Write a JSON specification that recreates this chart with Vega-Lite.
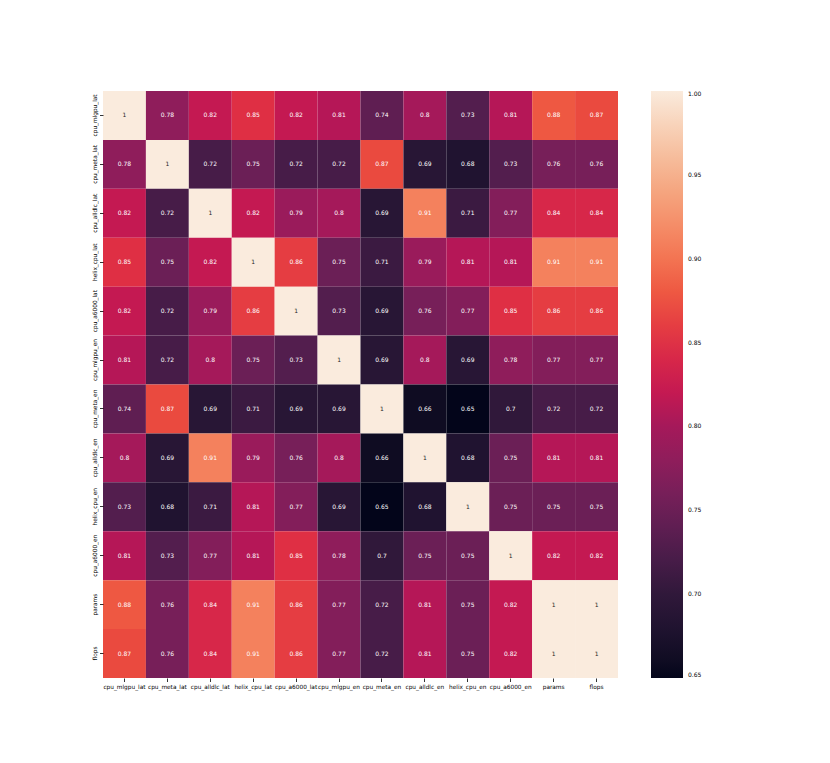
{
  "$schema": "https://vega.github.io/schema/vega-lite/v6.json",
  "width": 515,
  "height": 587,
  "autosize": {"type": "none"},
  "padding": {"left": 103, "top": 91, "right": 212, "bottom": 85},
  "background": "white",
  "config": {
    "view": {"stroke": null},
    "font": "DejaVu Sans"
  },
  "datasets": {
    "corr": [
      {"r":"cpu_mlgpu_lat","c":"cpu_mlgpu_lat","v":1},{"r":"cpu_mlgpu_lat","c":"cpu_meta_lat","v":0.78},{"r":"cpu_mlgpu_lat","c":"cpu_alldlc_lat","v":0.82},{"r":"cpu_mlgpu_lat","c":"helix_cpu_lat","v":0.85},{"r":"cpu_mlgpu_lat","c":"cpu_a6000_lat","v":0.82},{"r":"cpu_mlgpu_lat","c":"cpu_mlgpu_en","v":0.81},{"r":"cpu_mlgpu_lat","c":"cpu_meta_en","v":0.74},{"r":"cpu_mlgpu_lat","c":"cpu_alldlc_en","v":0.8},{"r":"cpu_mlgpu_lat","c":"helix_cpu_en","v":0.73},{"r":"cpu_mlgpu_lat","c":"cpu_a6000_en","v":0.81},{"r":"cpu_mlgpu_lat","c":"params","v":0.88},{"r":"cpu_mlgpu_lat","c":"flops","v":0.87},
      {"r":"cpu_meta_lat","c":"cpu_mlgpu_lat","v":0.78},{"r":"cpu_meta_lat","c":"cpu_meta_lat","v":1},{"r":"cpu_meta_lat","c":"cpu_alldlc_lat","v":0.72},{"r":"cpu_meta_lat","c":"helix_cpu_lat","v":0.75},{"r":"cpu_meta_lat","c":"cpu_a6000_lat","v":0.72},{"r":"cpu_meta_lat","c":"cpu_mlgpu_en","v":0.72},{"r":"cpu_meta_lat","c":"cpu_meta_en","v":0.87},{"r":"cpu_meta_lat","c":"cpu_alldlc_en","v":0.69},{"r":"cpu_meta_lat","c":"helix_cpu_en","v":0.68},{"r":"cpu_meta_lat","c":"cpu_a6000_en","v":0.73},{"r":"cpu_meta_lat","c":"params","v":0.76},{"r":"cpu_meta_lat","c":"flops","v":0.76},
      {"r":"cpu_alldlc_lat","c":"cpu_mlgpu_lat","v":0.82},{"r":"cpu_alldlc_lat","c":"cpu_meta_lat","v":0.72},{"r":"cpu_alldlc_lat","c":"cpu_alldlc_lat","v":1},{"r":"cpu_alldlc_lat","c":"helix_cpu_lat","v":0.82},{"r":"cpu_alldlc_lat","c":"cpu_a6000_lat","v":0.79},{"r":"cpu_alldlc_lat","c":"cpu_mlgpu_en","v":0.8},{"r":"cpu_alldlc_lat","c":"cpu_meta_en","v":0.69},{"r":"cpu_alldlc_lat","c":"cpu_alldlc_en","v":0.91},{"r":"cpu_alldlc_lat","c":"helix_cpu_en","v":0.71},{"r":"cpu_alldlc_lat","c":"cpu_a6000_en","v":0.77},{"r":"cpu_alldlc_lat","c":"params","v":0.84},{"r":"cpu_alldlc_lat","c":"flops","v":0.84},
      {"r":"helix_cpu_lat","c":"cpu_mlgpu_lat","v":0.85},{"r":"helix_cpu_lat","c":"cpu_meta_lat","v":0.75},{"r":"helix_cpu_lat","c":"cpu_alldlc_lat","v":0.82},{"r":"helix_cpu_lat","c":"helix_cpu_lat","v":1},{"r":"helix_cpu_lat","c":"cpu_a6000_lat","v":0.86},{"r":"helix_cpu_lat","c":"cpu_mlgpu_en","v":0.75},{"r":"helix_cpu_lat","c":"cpu_meta_en","v":0.71},{"r":"helix_cpu_lat","c":"cpu_alldlc_en","v":0.79},{"r":"helix_cpu_lat","c":"helix_cpu_en","v":0.81},{"r":"helix_cpu_lat","c":"cpu_a6000_en","v":0.81},{"r":"helix_cpu_lat","c":"params","v":0.91},{"r":"helix_cpu_lat","c":"flops","v":0.91},
      {"r":"cpu_a6000_lat","c":"cpu_mlgpu_lat","v":0.82},{"r":"cpu_a6000_lat","c":"cpu_meta_lat","v":0.72},{"r":"cpu_a6000_lat","c":"cpu_alldlc_lat","v":0.79},{"r":"cpu_a6000_lat","c":"helix_cpu_lat","v":0.86},{"r":"cpu_a6000_lat","c":"cpu_a6000_lat","v":1},{"r":"cpu_a6000_lat","c":"cpu_mlgpu_en","v":0.73},{"r":"cpu_a6000_lat","c":"cpu_meta_en","v":0.69},{"r":"cpu_a6000_lat","c":"cpu_alldlc_en","v":0.76},{"r":"cpu_a6000_lat","c":"helix_cpu_en","v":0.77},{"r":"cpu_a6000_lat","c":"cpu_a6000_en","v":0.85},{"r":"cpu_a6000_lat","c":"params","v":0.86},{"r":"cpu_a6000_lat","c":"flops","v":0.86},
      {"r":"cpu_mlgpu_en","c":"cpu_mlgpu_lat","v":0.81},{"r":"cpu_mlgpu_en","c":"cpu_meta_lat","v":0.72},{"r":"cpu_mlgpu_en","c":"cpu_alldlc_lat","v":0.8},{"r":"cpu_mlgpu_en","c":"helix_cpu_lat","v":0.75},{"r":"cpu_mlgpu_en","c":"cpu_a6000_lat","v":0.73},{"r":"cpu_mlgpu_en","c":"cpu_mlgpu_en","v":1},{"r":"cpu_mlgpu_en","c":"cpu_meta_en","v":0.69},{"r":"cpu_mlgpu_en","c":"cpu_alldlc_en","v":0.8},{"r":"cpu_mlgpu_en","c":"helix_cpu_en","v":0.69},{"r":"cpu_mlgpu_en","c":"cpu_a6000_en","v":0.78},{"r":"cpu_mlgpu_en","c":"params","v":0.77},{"r":"cpu_mlgpu_en","c":"flops","v":0.77},
      {"r":"cpu_meta_en","c":"cpu_mlgpu_lat","v":0.74},{"r":"cpu_meta_en","c":"cpu_meta_lat","v":0.87},{"r":"cpu_meta_en","c":"cpu_alldlc_lat","v":0.69},{"r":"cpu_meta_en","c":"helix_cpu_lat","v":0.71},{"r":"cpu_meta_en","c":"cpu_a6000_lat","v":0.69},{"r":"cpu_meta_en","c":"cpu_mlgpu_en","v":0.69},{"r":"cpu_meta_en","c":"cpu_meta_en","v":1},{"r":"cpu_meta_en","c":"cpu_alldlc_en","v":0.66},{"r":"cpu_meta_en","c":"helix_cpu_en","v":0.65},{"r":"cpu_meta_en","c":"cpu_a6000_en","v":0.7},{"r":"cpu_meta_en","c":"params","v":0.72},{"r":"cpu_meta_en","c":"flops","v":0.72},
      {"r":"cpu_alldlc_en","c":"cpu_mlgpu_lat","v":0.8},{"r":"cpu_alldlc_en","c":"cpu_meta_lat","v":0.69},{"r":"cpu_alldlc_en","c":"cpu_alldlc_lat","v":0.91},{"r":"cpu_alldlc_en","c":"helix_cpu_lat","v":0.79},{"r":"cpu_alldlc_en","c":"cpu_a6000_lat","v":0.76},{"r":"cpu_alldlc_en","c":"cpu_mlgpu_en","v":0.8},{"r":"cpu_alldlc_en","c":"cpu_meta_en","v":0.66},{"r":"cpu_alldlc_en","c":"cpu_alldlc_en","v":1},{"r":"cpu_alldlc_en","c":"helix_cpu_en","v":0.68},{"r":"cpu_alldlc_en","c":"cpu_a6000_en","v":0.75},{"r":"cpu_alldlc_en","c":"params","v":0.81},{"r":"cpu_alldlc_en","c":"flops","v":0.81},
      {"r":"helix_cpu_en","c":"cpu_mlgpu_lat","v":0.73},{"r":"helix_cpu_en","c":"cpu_meta_lat","v":0.68},{"r":"helix_cpu_en","c":"cpu_alldlc_lat","v":0.71},{"r":"helix_cpu_en","c":"helix_cpu_lat","v":0.81},{"r":"helix_cpu_en","c":"cpu_a6000_lat","v":0.77},{"r":"helix_cpu_en","c":"cpu_mlgpu_en","v":0.69},{"r":"helix_cpu_en","c":"cpu_meta_en","v":0.65},{"r":"helix_cpu_en","c":"cpu_alldlc_en","v":0.68},{"r":"helix_cpu_en","c":"helix_cpu_en","v":1},{"r":"helix_cpu_en","c":"cpu_a6000_en","v":0.75},{"r":"helix_cpu_en","c":"params","v":0.75},{"r":"helix_cpu_en","c":"flops","v":0.75},
      {"r":"cpu_a6000_en","c":"cpu_mlgpu_lat","v":0.81},{"r":"cpu_a6000_en","c":"cpu_meta_lat","v":0.73},{"r":"cpu_a6000_en","c":"cpu_alldlc_lat","v":0.77},{"r":"cpu_a6000_en","c":"helix_cpu_lat","v":0.81},{"r":"cpu_a6000_en","c":"cpu_a6000_lat","v":0.85},{"r":"cpu_a6000_en","c":"cpu_mlgpu_en","v":0.78},{"r":"cpu_a6000_en","c":"cpu_meta_en","v":0.7},{"r":"cpu_a6000_en","c":"cpu_alldlc_en","v":0.75},{"r":"cpu_a6000_en","c":"helix_cpu_en","v":0.75},{"r":"cpu_a6000_en","c":"cpu_a6000_en","v":1},{"r":"cpu_a6000_en","c":"params","v":0.82},{"r":"cpu_a6000_en","c":"flops","v":0.82},
      {"r":"params","c":"cpu_mlgpu_lat","v":0.88},{"r":"params","c":"cpu_meta_lat","v":0.76},{"r":"params","c":"cpu_alldlc_lat","v":0.84},{"r":"params","c":"helix_cpu_lat","v":0.91},{"r":"params","c":"cpu_a6000_lat","v":0.86},{"r":"params","c":"cpu_mlgpu_en","v":0.77},{"r":"params","c":"cpu_meta_en","v":0.72},{"r":"params","c":"cpu_alldlc_en","v":0.81},{"r":"params","c":"helix_cpu_en","v":0.75},{"r":"params","c":"cpu_a6000_en","v":0.82},{"r":"params","c":"params","v":1},{"r":"params","c":"flops","v":1},
      {"r":"flops","c":"cpu_mlgpu_lat","v":0.87},{"r":"flops","c":"cpu_meta_lat","v":0.76},{"r":"flops","c":"cpu_alldlc_lat","v":0.84},{"r":"flops","c":"helix_cpu_lat","v":0.91},{"r":"flops","c":"cpu_a6000_lat","v":0.86},{"r":"flops","c":"cpu_mlgpu_en","v":0.77},{"r":"flops","c":"cpu_meta_en","v":0.72},{"r":"flops","c":"cpu_alldlc_en","v":0.81},{"r":"flops","c":"helix_cpu_en","v":0.75},{"r":"flops","c":"cpu_a6000_en","v":0.82},{"r":"flops","c":"params","v":1},{"r":"flops","c":"flops","v":1}
    ]
  },
  "data": {"name": "corr"},
  "encoding": {
    "x": {
      "field": "c", "type": "nominal", "title": null,
      "sort": ["cpu_mlgpu_lat","cpu_meta_lat","cpu_alldlc_lat","helix_cpu_lat","cpu_a6000_lat","cpu_mlgpu_en","cpu_meta_en","cpu_alldlc_en","helix_cpu_en","cpu_a6000_en","params","flops"],
      "scale": {"paddingInner": 0, "paddingOuter": 0},
      "axis": {"orient": "bottom", "labelAngle": 0, "domain": false, "grid": false, "ticks": true, "tickSize": 3.5, "tickColor": "#000000", "tickWidth": 0.8, "labelFontSize": 5.8, "labelColor": "#000000", "labelPadding": 2, "labelFont": "DejaVu Sans", "labelOverlap": false}
    },
    "y": {
      "field": "r", "type": "nominal", "title": null,
      "sort": ["cpu_mlgpu_lat","cpu_meta_lat","cpu_alldlc_lat","helix_cpu_lat","cpu_a6000_lat","cpu_mlgpu_en","cpu_meta_en","cpu_alldlc_en","helix_cpu_en","cpu_a6000_en","params","flops"],
      "scale": {"paddingInner": 0, "paddingOuter": 0},
      "axis": {"orient": "left", "labelAngle": -90, "labelAlign": "center", "labelBaseline": "bottom", "domain": false, "grid": false, "ticks": true, "tickSize": 3.5, "tickColor": "#000000", "tickWidth": 0.8, "labelFontSize": 5.8, "labelColor": "#000000", "labelPadding": 2, "labelFont": "DejaVu Sans", "labelOverlap": false}
    }
  },
  "layer": [
    {
      "mark": {"type": "rect", "strokeWidth": 0},
      "encoding": {
        "color": {
          "field": "v", "type": "quantitative", "title": null,
          "scale": {
            "type": "linear",
            "domain": [0.65, 0.675, 0.7, 0.725, 0.75, 0.775, 0.8, 0.825, 0.85, 0.875, 0.9, 0.925, 0.95, 0.975, 1.0],
            "range": ["#03051a", "#1c122d", "#30183a", "#4d1d4b", "#6b1f56", "#891e5b", "#a5195a", "#cb1b4f", "#df2f44", "#ed503e", "#f37452", "#f5936e", "#f5b08c", "#f8cdb2", "#faebdd"]
          },
          "legend": {
            "orient": "none", "legendX": 548, "legendY": 0, "direction": "vertical",
            "gradientLength": 587, "gradientThickness": 32, "gradientStrokeWidth": 0,
            "values": [0.65, 0.7, 0.75, 0.8, 0.85, 0.9, 0.95, 1.0],
            "format": ".2f", "labelFontSize": 6, "labelColor": "#000000", "labelOffset": 5, "labelFont": "DejaVu Sans"
          }
        }
      }
    },
    {
      "mark": {"type": "text", "fontSize": 6, "font": "DejaVu Sans"},
      "encoding": {
        "text": {"field": "v", "type": "quantitative", "format": ".2~g"},
        "color": {"condition": {"test": "datum.v >= 0.95", "value": "#262626"}, "value": "#ffffff"}
      }
    }
  ]
}
